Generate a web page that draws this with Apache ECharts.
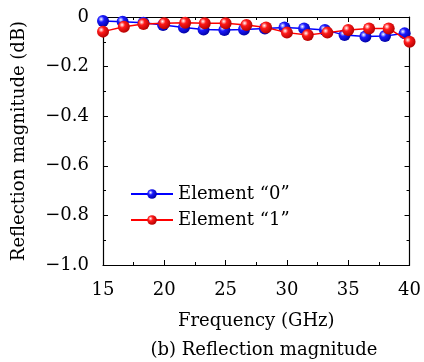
<!DOCTYPE html>
<html>
<head>
<meta charset="utf-8">
<script src="https://cdn.jsdelivr.net/npm/echarts@6/dist/echarts.min.js"></script>
<style>
  html, body { margin: 0; padding: 0; background: #fff; }
  #chart { width: 424px; height: 362px; }
</style>
</head>
<body>
<div id="chart"></div>
<script>
// frequencies (GHz) and reflection magnitude (dB) for the two elements
var freq0 = [15, 16.6, 18.3, 19.9, 21.6, 23.2, 24.9, 26.5, 28.2, 29.8, 31.4, 33.1, 34.7, 36.4, 38.0, 39.6];
var mag0 = [-0.016, -0.019, -0.023, -0.032, -0.042, -0.050, -0.052, -0.050, -0.046, -0.042, -0.046, -0.052, -0.073, -0.079, -0.077, -0.066];
var freq1 = [15, 16.7, 18.3, 20, 21.7, 23.3, 25, 26.7, 28.3, 30, 31.7, 33.3, 35, 36.7, 38.3, 40];
var mag1 = [-0.059, -0.039, -0.028, -0.025, -0.023, -0.025, -0.025, -0.032, -0.042, -0.063, -0.073, -0.063, -0.052, -0.046, -0.046, -0.100];
var seriesNames = ['Element \u201c0\u201d', 'Element \u201c1\u201d'];

var font = 'DejaVu Serif';
var fs = 18;

function pairs(xs, ys) {
    var out = [];
    for (var i = 0; i < xs.length; i++) {
        out.push([xs[i], ys[i]]);
    }
    return out;
}

// shaded ball look for the markers
function ball(c, dark) {
    return {
        type: 'radial', x: 0.35, y: 0.35, r: 0.7,
        colorStops: [
            {offset: 0, color: '#ffffff'},
            {offset: 0.35, color: c},
            {offset: 1, color: dark}
        ]
    };
}

function yLabel(v) {
    if (Math.abs(v) < 1e-9) return '0';
    return '\u2212' + Math.abs(v).toFixed(1);
}

var tickStyle = {show: true, inside: true, length: 5, lineStyle: {color: '#000', width: 1}};
var minorStyle = {show: true, splitNumber: 2, length: 3, lineStyle: {color: '#000', width: 1}};

var option = {
    animation: false,
    backgroundColor: '#fff',
    title: {
        text: '(b) Reflection magnitude',
        left: 259,
        top: 336,
        textAlign: 'center',
        textStyle: {fontFamily: font, fontSize: fs, fontWeight: 'normal', color: '#000'}
    },
    legend: {
        orient: 'vertical',
        left: 125,
        top: 180,
        itemWidth: 42,
        itemHeight: 12,
        itemGap: 8,
        data: seriesNames,
        textStyle: {fontFamily: font, fontSize: fs, color: '#000'}
    },
    grid: {left: 103, right: 10, top: 17, bottom: 97},
    xAxis: [{
        type: 'value', min: 15, max: 40, interval: 5,
        name: 'Frequency (GHz)', nameLocation: 'middle', nameGap: 47,
        nameTextStyle: {fontFamily: font, fontSize: fs, color: '#000'},
        axisLine: {onZero: false, lineStyle: {color: '#000', width: 1.2}},
        axisTick: tickStyle, minorTick: minorStyle,
        axisLabel: {fontFamily: font, fontSize: fs, color: '#000', margin: 16},
        splitLine: {show: false}
    }, {
        type: 'value', min: 15, max: 40, interval: 5, position: 'top',
        axisLine: {onZero: false, lineStyle: {color: '#000', width: 1.2}},
        axisTick: tickStyle, minorTick: minorStyle,
        axisLabel: {show: false}, splitLine: {show: false}
    }],
    yAxis: [{
        type: 'value', min: -1, max: 0, interval: 0.2,
        name: 'Reflection magnitude (dB)', nameLocation: 'middle', nameGap: 75,
        nameTextStyle: {fontFamily: font, fontSize: fs, color: '#000'},
        axisLine: {show: true, onZero: false, lineStyle: {color: '#000', width: 1.2}},
        axisTick: tickStyle, minorTick: minorStyle,
        axisLabel: {fontFamily: font, fontSize: fs, color: '#000', margin: 14, formatter: yLabel},
        splitLine: {show: false}
    }, {
        type: 'value', min: -1, max: 0, interval: 0.2, position: 'right',
        axisLine: {show: true, onZero: false, lineStyle: {color: '#000', width: 1.2}},
        axisTick: tickStyle, minorTick: minorStyle,
        axisLabel: {show: false}, splitLine: {show: false}
    }],
    series: [
        {
            name: seriesNames[0],
            type: 'line',
            data: pairs(freq0, mag0),
            symbol: 'circle', symbolSize: 12,
            lineStyle: {color: '#0000ff', width: 1.5},
            itemStyle: {color: ball('#1a1aff', '#0000a0'), borderWidth: 0},
            z: 2
        },
        {
            name: seriesNames[1],
            type: 'line',
            data: pairs(freq1, mag1),
            symbol: 'circle', symbolSize: 12,
            lineStyle: {color: '#ff0000', width: 1.5},
            itemStyle: {color: ball('#ff1a1a', '#b00000'), borderWidth: 0},
            z: 3
        }
    ]
};

var chart = echarts.init(document.getElementById('chart'));
chart.setOption(option);
</script>
</body>
</html>
